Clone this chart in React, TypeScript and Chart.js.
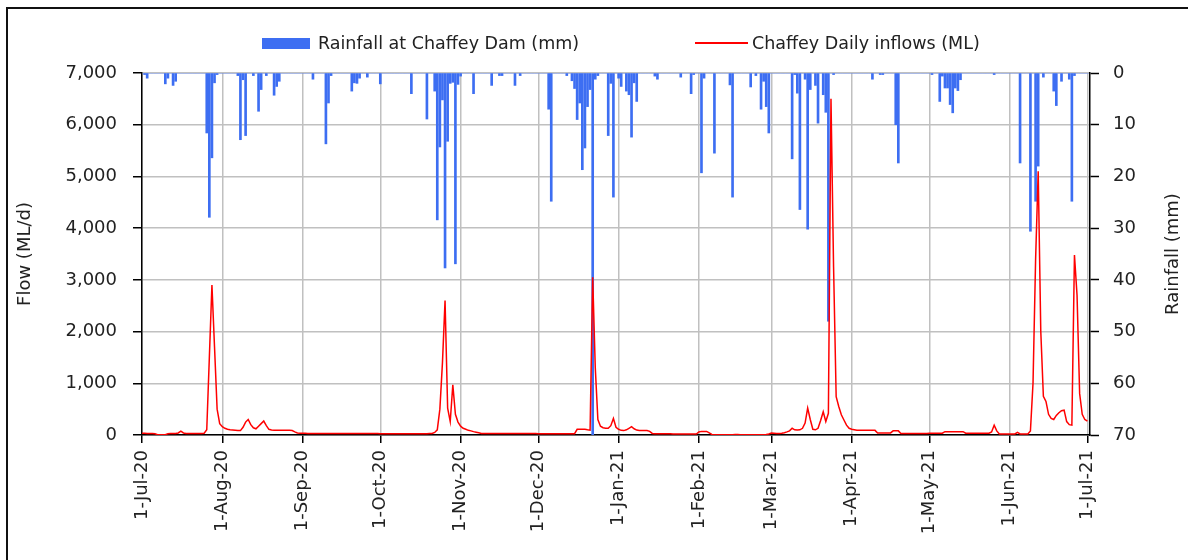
import React, { useEffect, useRef } from 'react';
import { Chart, registerables } from 'chart.js';

Chart.register(...registerables);

// X axis: day index from 1-Jul-20 (0) to 1-Jul-21 (365)
const monthTickDays = [0, 31, 62, 92, 123, 153, 184, 215, 243, 274, 304, 335, 365];
const monthTickLabels = [
  '1-Jul-20', '1-Aug-20', '1-Sep-20', '1-Oct-20', '1-Nov-20', '1-Dec-20',
  '1-Jan-21', '1-Feb-21', '1-Mar-21', '1-Apr-21', '1-May-21', '1-Jun-21', '1-Jul-21',
];

// Daily rainfall at Chaffey Dam (mm), by month
const rainJul20 = [0, 0.3, 1.0, 0, 0, 0, 0, 0, 0, 2.1, 1.0, 0, 2.4, 1.6, 0, 0, 0, 0, 0, 0, 0, 0, 0, 0, 0, 11.6, 27.9, 16.4, 1.9, 0.3, 0];
const rainAug20 = [0, 0, 0, 0, 0, 0, 0.5, 12.9, 1.3, 12.1, 0, 0, 0.5, 0, 7.4, 3.2, 0, 0.5, 0, 0, 4.3, 2.6, 1.6, 0, 0, 0, 0, 0, 0, 0, 0];
const rainSep20 = [0, 0, 0, 0, 1.2, 0, 0, 0, 0, 13.7, 5.8, 0.5, 0, 0, 0, 0, 0, 0, 0, 3.5, 1.9, 2.0, 1.0, 0, 0, 0.8, 0, 0, 0, 0];
const rainOct20 = [2.1, 0, 0, 0, 0, 0, 0, 0, 0, 0, 0, 0, 4.0, 0, 0, 0, 0, 0, 8.9, 0, 0, 3.5, 28.4, 14.3, 5.2, 37.7, 13.2, 2.0, 1.8, 36.9, 2.2];
const rainNov20 = [0.6, 0, 0, 0, 0, 4.0, 0, 0, 0, 0, 0, 0, 2.4, 0, 0, 0.5, 0.5, 0, 0, 0, 0, 2.4, 0, 0.5, 0, 0, 0, 0, 0, 0];
const rainDec20 = [0, 0, 0, 0, 7.0, 24.8, 0, 0, 0, 0, 0, 0.5, 0, 1.5, 3.0, 9.0, 5.8, 18.7, 14.5, 6.5, 3.2, 71, 1.2, 0.5, 0, 0, 0, 12.1, 2.0, 24.0, 0];
const rainJan21 = [1.0, 2.6, 0, 3.5, 4.2, 12.4, 1.9, 5.5, 0, 0, 0, 0, 0, 0, 0.6, 1.2, 0, 0, 0, 0, 0, 0, 0, 0, 0.8, 0, 0, 0, 4.0, 0.3, 0];
const rainFeb21 = [0, 19.3, 1.0, 0, 0, 0, 15.5, 0, 0, 0, 0, 0, 2.3, 24.0, 0, 0, 0, 0, 0, 0, 2.7, 0, 0.5, 0, 7.0, 1.6, 6.5, 11.6];
const rainMar21 = [0, 0, 0, 0, 0, 0, 0, 0, 16.6, 0.3, 3.9, 26.4, 0, 1.2, 30.2, 3.2, 0, 2.4, 9.7, 0, 4.2, 7.6, 48, 0, 0.3, 0, 0, 0, 0, 0, 0];
const rainApr21 = [0, 0, 0, 0, 0, 0, 0, 0, 1.2, 0, 0, 0.3, 0.3, 0, 0, 0, 0, 10, 17.4, 0, 0, 0, 0, 0, 0, 0, 0, 0, 0, 0];
const rainMay21 = [0, 0.3, 0, 0, 5.5, 0.6, 2.9, 2.9, 6.1, 7.7, 2.9, 3.4, 1.3, 0, 0, 0, 0, 0, 0, 0, 0, 0, 0, 0, 0, 0.3, 0, 0, 0, 0, 0];
const rainJun21 = [0, 0, 0, 0, 17.4, 0, 0, 0, 30.6, 0, 24.8, 18, 0, 0.8, 0, 0, 0, 3.5, 6.3, 0, 1.6, 0, 0, 1.2, 24.8, 0.5, 0, 0, 0, 0];
const rainJul21 = [0];

// Chaffey daily inflows (ML), by month
const inflowJul20 = [35, 35, 30, 30, 30, 25, 5, 5, 5, 5, 25, 30, 30, 30, 40, 75, 40, 30, 30, 30, 30, 30, 30, 30, 35, 100, 1500, 2900, 1700, 500, 220];
const inflowAug20 = [160, 130, 110, 100, 95, 90, 85, 85, 150, 250, 300, 200, 140, 120, 170, 220, 270, 180, 110, 95, 90, 90, 90, 90, 90, 90, 90, 85, 60, 40, 35];
const inflowSep20 = [35, 35, 30, 30, 30, 30, 30, 30, 30, 30, 30, 30, 30, 30, 30, 30, 30, 30, 30, 30, 30, 30, 30, 30, 30, 30, 30, 30, 30, 30];
const inflowOct20 = [25, 25, 25, 25, 25, 25, 25, 25, 25, 25, 25, 25, 25, 25, 25, 25, 25, 25, 25, 30, 30, 50, 100, 500, 1400, 2600, 520, 260, 970, 400, 250];
const inflowNov20 = [170, 130, 110, 90, 80, 65, 55, 45, 30, 30, 30, 30, 30, 30, 30, 30, 30, 30, 30, 30, 30, 30, 30, 30, 30, 30, 30, 30, 30, 30];
const inflowDec20 = [25, 25, 25, 25, 25, 25, 25, 25, 25, 25, 25, 25, 25, 25, 25, 110, 110, 110, 110, 100, 95, 3050, 1300, 300, 170, 140, 130, 130, 180, 320, 150];
const inflowJan21 = [110, 90, 85, 100, 130, 160, 120, 95, 85, 85, 85, 85, 70, 30, 25, 25, 25, 25, 25, 25, 25, 20, 20, 20, 20, 20, 20, 20, 20, 20, 20];
const inflowFeb21 = [60, 70, 70, 70, 40, 10, 5, 5, 5, 5, 5, 5, 5, 5, 10, 10, 5, 5, 5, 5, 5, 5, 5, 5, 5, 5, 10, 20];
const inflowMar21 = [40, 35, 30, 30, 35, 45, 60, 80, 130, 100, 95, 100, 130, 230, 520, 300, 110, 100, 130, 280, 450, 260, 420, 6500, 3250, 740, 550, 390, 290, 190, 130];
const inflowApr21 = [110, 100, 90, 90, 90, 90, 90, 90, 90, 90, 40, 40, 40, 40, 40, 40, 80, 80, 80, 30, 30, 30, 30, 30, 30, 30, 30, 30, 30, 30];
const inflowMay21 = [35, 35, 35, 35, 35, 35, 65, 65, 65, 65, 65, 65, 65, 65, 35, 35, 35, 35, 35, 35, 35, 35, 35, 35, 60, 190, 80, 20, 20, 20, 20];
const inflowJun21 = [20, 20, 20, 50, 20, 20, 20, 20, 80, 1000, 3400, 5100, 2000, 750, 650, 400, 320, 300, 380, 430, 470, 480, 260, 200, 190, 3480, 2700, 800, 400, 300];
const inflowJul21 = [270];

const rainfall = [
  ...rainJul20, ...rainAug20, ...rainSep20, ...rainOct20, ...rainNov20, ...rainDec20,
  ...rainJan21, ...rainFeb21, ...rainMar21, ...rainApr21, ...rainMay21, ...rainJun21, ...rainJul21,
];
const inflow = [
  ...inflowJul20, ...inflowAug20, ...inflowSep20, ...inflowOct20, ...inflowNov20, ...inflowDec20,
  ...inflowJan21, ...inflowFeb21, ...inflowMar21, ...inflowApr21, ...inflowMay21, ...inflowJun21, ...inflowJul21,
];

const RAIN_LABEL = 'Rainfall at Chaffey Dam (mm)';
const INFLOW_LABEL = 'Chaffey Daily inflows (ML)';
const BLUE = '#3d6ef2';
const RED = '#ff0000';
const TEXT = '#222222';
const GRID = '#c0c0c0';
const FONT = "'DejaVu Sans', sans-serif";

export default function App() {
  const canvasRef = useRef<HTMLCanvasElement | null>(null);

  useEffect(() => {
    const canvas = canvasRef.current;
    if (!canvas) return;
    Chart.defaults.font.family = FONT;
    Chart.defaults.color = TEXT;
    const chart = new Chart(canvas, {
      type: 'line',
      data: {
        datasets: [
          {
            type: 'line',
            label: INFLOW_LABEL,
            data: inflow.map((v, i) => ({ x: i, y: v })),
            yAxisID: 'y',
            xAxisID: 'x',
            borderColor: RED,
            borderWidth: 1.5,
            pointRadius: 0,
            tension: 0,
            fill: false,
            order: 1,
          },
          {
            type: 'bar',
            label: RAIN_LABEL,
            data: rainfall.map((v, i) => ({ x: i, y: v })),
            yAxisID: 'y2',
            xAxisID: 'x',
            backgroundColor: BLUE,
            borderWidth: 0,
            barThickness: 2,
            order: 2,
          } as any,
        ],
      },
      options: {
        responsive: false,
        animation: false,
        maintainAspectRatio: false,
        layout: { padding: { top: 73, left: 0, right: 0, bottom: 0 } },
        plugins: {
          legend: { display: false },
          tooltip: { enabled: false },
        },
        scales: {
          x: {
            type: 'linear',
            min: 0,
            max: 366,
            offset: false,
            afterBuildTicks: (s: any) => {
              s.ticks = monthTickDays.map((v) => ({ value: v }));
            },
            afterFit: (s: any) => {
              s.height = 125;
            },
            ticks: {
              autoSkip: false,
              minRotation: 90,
              maxRotation: 90,
              padding: 7,
              color: TEXT,
              font: { size: 18, family: FONT },
              callback: (v: any) => {
                const idx = monthTickDays.indexOf(Number(v));
                return idx >= 0 ? monthTickLabels[idx] : '';
              },
            },
            grid: { color: GRID, lineWidth: 1.5, offset: false, tickColor: '#000', tickLength: 8, tickWidth: 1.5 },
            border: { color: '#000', width: 1.5 },
          },
          y: {
            type: 'linear',
            position: 'left',
            min: 0,
            max: 7000,
            afterFit: (s: any) => {
              s.width = 142;
            },
            ticks: {
              stepSize: 1000,
              padding: 16,
              color: TEXT,
              font: { size: 18, family: FONT },
              callback: (v: any) => Number(v).toLocaleString('en-US'),
            },
            title: {
              display: true,
              text: 'Flow (ML/d)',
              color: TEXT,
              font: { size: 18, family: FONT },
              padding: { top: 15, bottom: 0 },
            },
            grid: { color: GRID, lineWidth: 1.5, tickColor: '#000', tickLength: 9, tickWidth: 1.5 },
            border: { color: '#000', width: 1.5 },
          },
          y2: {
            type: 'linear',
            position: 'right',
            reverse: true,
            min: 0,
            max: 70,
            afterFit: (s: any) => {
              s.width = 98;
            },
            ticks: {
              stepSize: 10,
              padding: 14,
              color: TEXT,
              font: { size: 18, family: FONT },
            },
            grid: { drawOnChartArea: false, tickColor: '#000', tickLength: 9, tickWidth: 1.5 },
            border: { color: '#000', width: 1.5 },
          },
        },
      },
    } as any);
    return () => chart.destroy();
  }, []);

  const textStyle: React.CSSProperties = {
    position: 'absolute',
    fontFamily: FONT,
    fontSize: 17.5,
    lineHeight: '20px',
    color: TEXT,
    whiteSpace: 'nowrap',
  };

  return (
    <div style={{ position: 'fixed', left: 0, top: 0, width: 1188, height: 560, overflow: 'hidden', background: '#ffffff' }}>
      <canvas ref={canvasRef} width={1188} height={560} style={{ position: 'absolute', left: 0, top: 0, width: 1188, height: 560 }} />
      <div style={{ position: 'absolute', left: 6, top: 7, width: 1200, height: 600, border: '2px solid #111', pointerEvents: 'none' }} />
      <div style={{ position: 'absolute', left: 262, top: 38, width: 48, height: 11, background: BLUE }} />
      <div style={{ ...textStyle, left: 318, top: 33 }}>{RAIN_LABEL}</div>
      <div style={{ position: 'absolute', left: 695, top: 42, width: 53, height: 2, background: RED }} />
      <div style={{ ...textStyle, left: 752, top: 33 }}>{INFLOW_LABEL}</div>
      <div
        style={{
          ...textStyle,
          fontSize: 18,
          left: 1172,
          top: 254,
          transform: 'translate(-50%, -50%) rotate(-90deg)',
        }}
      >
        Rainfall (mm)
      </div>
    </div>
  );
}
